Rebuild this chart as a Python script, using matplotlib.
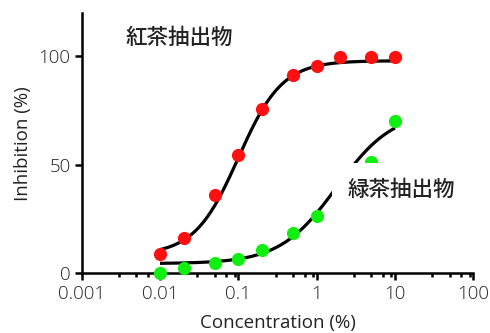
import numpy as np
import matplotlib
matplotlib.use("Agg")
import matplotlib.pyplot as plt
from matplotlib.ticker import FixedLocator, NullFormatter

# ---- data ----
conc_red = [0.01, 0.02, 0.05, 0.1, 0.2, 0.5, 1, 2, 5, 10]
inh_red = [8.8, 16.4, 36.0, 54.5, 75.7, 91.4, 95.7, 99.8, 99.8, 99.8]
conc_green = [0.01, 0.02, 0.05, 0.1, 0.2, 0.5, 1, 5, 10]
inh_green = [0.3, 2.6, 5.0, 6.6, 11.0, 18.7, 26.4, 51.2, 70.2]

# fitted 4-parameter logistic curves (bottom, top, EC50, hill)
fit_red = (8.5, 98.0, 0.1, 1.55)
fit_green = (4.5, 75.0, 1.8, 1.2)

label_red = "紅茶抽出物"
label_green = "緑茶抽出物"
xticks = [0.001, 0.01, 0.1, 1, 10, 100]
xticklabels = ["0.001", "0.01", "0.1", "1", "10", "100"]
yticks = [0, 50, 100]

def logistic(x, p):
    b, t, ec, h = p
    return b + (t - b) / (1 + (ec / x) ** h)

plt.rcParams['font.family'] = ['Open Sans', 'DejaVu Sans']
plt.rcParams['font.weight'] = 300

fig = plt.figure(figsize=(4.9, 3.33), dpi=100)
ax = fig.add_axes([0.1667, 0.179, 0.7993, 0.782])

xs = np.logspace(-2, 1, 300)
ax.plot(xs, logistic(xs, fit_red), color='black', lw=2.3, zorder=3, solid_capstyle='butt')
ax.plot(xs, logistic(xs, fit_green), color='black', lw=2.3, zorder=3, solid_capstyle='butt')
ax.plot(conc_red, inh_red, 'o', color='#ff1010', ms=9.5, mec='none', zorder=4, clip_on=False)
ax.plot(conc_green, inh_green, 'o', color='#11ee11', ms=9.5, mec='none', zorder=4, clip_on=False)

ax.set_xscale('log')
ax.set_xlim(0.001, 100)
ax.set_ylim(0, 120)
ax.set_xticks(xticks)
ax.set_xticklabels(xticklabels)
minors = [m * 10.0 ** e for e in range(-3, 2) for m in (3, 5, 7, 9)]
ax.xaxis.set_minor_locator(FixedLocator(minors))
ax.xaxis.set_minor_formatter(NullFormatter())
ax.set_yticks(yticks)

for s in ('top', 'right'):
    ax.spines[s].set_visible(False)
for s in ('left', 'bottom'):
    ax.spines[s].set_linewidth(1.8)
ax.tick_params(which='major', length=5, width=1.8, labelsize=13.5, colors='black', pad=3)
ax.tick_params(which='minor', length=3, width=1.8)
for lab in ax.get_xticklabels() + ax.get_yticklabels():
    lab.set_color('#222222')

ax.set_xlabel("Concentration (%)", fontsize=13.5, color='#222222', labelpad=8)
ax.set_ylabel("Inhibition (%)", fontsize=13.5, color='#222222', labelpad=5)

ax.text(0.00357, 108.4, label_red, fontsize=15.5, fontweight='medium', family=['Noto Sans CJK JP'],
        ha='left', va='center', color='#222222', zorder=6)
ax.text(2.5, 38.4, label_green, fontsize=15.5, fontweight='medium', family=['Noto Sans CJK JP'],
        ha='left', va='center', color='#222222', zorder=6,
        bbox=dict(boxstyle='square,pad=0.75', fc='white', ec='none'))

fig.savefig('out.png', dpi=100)
